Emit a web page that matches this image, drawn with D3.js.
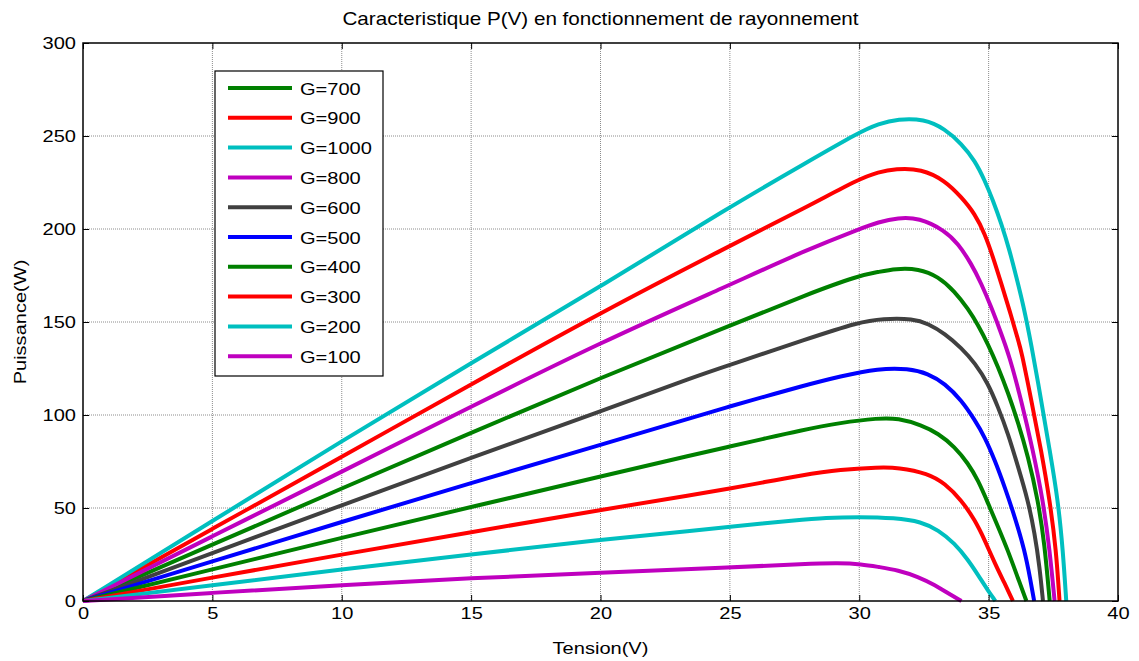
<!DOCTYPE html>
<html>
<head>
<meta charset="utf-8">
<script src="https://cdn.jsdelivr.net/npm/d3@7"></script>
<style>
  html, body { margin: 0; padding: 0; background: #fff; }
  svg text { font-family: "Liberation Sans", Arial, sans-serif; fill: #000; }
</style>
</head>
<body>
<svg id="chart" width="1139" height="661"></svg>
<script>
// ---- Data ----
const chartTitle = "Caracteristique P(V) en fonctionnement de rayonnement";
const xLabel = "Tension(V)";
const yLabel = "Puissance(W)";
const xTicks = [0, 5, 10, 15, 20, 25, 30, 35, 40];
const yTicks = [0, 50, 100, 150, 200, 250, 300];

// legend order = drawing order
const legendLabels = ["G=700", "G=900", "G=1000", "G=800", "G=600", "G=500", "G=400", "G=300", "G=200", "G=100"];

const v700  = [0, 5, 10, 15, 20, 25, 28, 30, 30.74, 31.4, 32.3, 33.05, 33.69, 34.21, 34.59, 34.98, 35.36, 35.75, 36.14, 36.52, 36.91, 37.16, 37.36];
const p700  = [0, 30.3, 60.5, 90.5, 120, 148, 165, 175, 176.9, 178.7, 178.7, 174.5, 166.5, 157, 148.5, 138, 126, 112, 96, 78, 54, 31, 0];

const v900  = [0, 5, 10, 15, 20, 25, 28, 30, 30.74, 31.4, 32.4, 33.31, 33.95, 34.47, 34.85, 35.17, 35.49, 35.81, 36.14, 36.26, 36.65, 37.03, 37.36, 37.61, 37.74];
const p900  = [0, 38.8, 77.5, 116.5, 155, 191, 212, 227, 230.6, 232.4, 232.4, 226.1, 217.1, 208.2, 197.5, 184.9, 170.6, 156.3, 140.2, 134.8, 107.9, 81.1, 54.2, 27.4, 0];

const v1000 = [0, 5, 10, 15, 20, 25, 28, 30, 30.74, 31.5, 32.5, 33.31, 33.95, 34.47, 34.85, 35.17, 35.49, 35.81, 36.07, 36.33, 36.65, 37.03, 37.36, 37.68, 37.87, 38.0];
const p1000 = [0, 43, 86, 128, 169, 212, 236, 252, 256.5, 259.2, 259.2, 253.9, 245.8, 236.8, 226.1, 215.4, 202.9, 188.5, 174.2, 159.9, 138, 107.9, 81.1, 54.2, 27.4, 0];

const v800  = [0, 5, 10, 15, 20, 25, 28, 30, 30.74, 31.5, 32.3, 33.31, 33.82, 34.33, 34.72, 35.1, 35.43, 35.81, 36.26, 36.71, 37.1, 37.36, 37.55];
const p800  = [0, 34.8, 69.5, 104.5, 139, 170, 189, 200, 203.7, 206.1, 206.1, 199.2, 192.1, 181.4, 170.6, 158.1, 146, 131.5, 107.9, 81.1, 54.2, 27.4, 0];

const v600  = [0, 5, 10, 15, 20, 23.79, 24.95, 28, 30, 30.9, 32.1, 32.66, 33.31, 33.95, 34.47, 34.98, 35.36, 35.75, 36.14, 36.52, 36.78, 36.97, 37.1];
const p600  = [0, 25.8, 51.5, 77, 102, 121.4, 126.7, 141, 150, 151.8, 151.8, 149.1, 143.8, 136, 128, 116.9, 104.4, 90.1, 72.1, 54.2, 36.4, 18.4, 0];

const v500  = [0, 5, 10, 15, 20, 23.79, 24.95, 26.37, 27.65, 29.32, 30.74, 31.9, 32.66, 33.31, 33.95, 34.47, 34.85, 35.24, 35.62, 36.01, 36.39, 36.62, 36.76];
const p500  = [0, 21.3, 42.5, 63.5, 84, 99.5, 104.5, 110, 115, 121, 125, 125, 122.3, 116.9, 107.9, 97.2, 88.2, 75.7, 61.4, 45.3, 27.4, 11, 0];

const v400  = [0, 5, 10, 15, 20, 23.79, 24.95, 26.37, 27.65, 29.32, 30.74, 31.5, 32.41, 33.05, 33.69, 34.21, 34.59, 34.98, 35.36, 35.75, 36.14, 36.46];
const p400  = [0, 17, 34, 50.5, 67, 79.3, 82.9, 87.4, 91.5, 96, 98.3, 98.3, 94.5, 90.1, 82.9, 73.9, 65, 52.5, 40, 27, 12, 0];

const v300  = [0, 5, 10, 15, 20, 23.79, 24.95, 26.37, 27.65, 29.32, 30.74, 31.5, 32.66, 33.31, 33.95, 34.47, 34.85, 35.24, 35.62, 35.94];
const p300  = [0, 12.6, 25, 37, 49, 57.6, 60.3, 64, 67.3, 70.8, 71.8, 71.8, 68.6, 63.2, 54.2, 43.5, 32.8, 20.2, 9.5, 0];

const v200  = [0, 5, 10, 15, 20, 23.79, 24.95, 27.65, 28.68, 29.97, 31.38, 32.41, 33.05, 33.69, 34.21, 34.59, 34.98, 35.26];
const p200  = [0, 8.5, 17, 25, 33, 38.1, 39.9, 43.5, 44.7, 45.2, 44.7, 42.6, 38.1, 31, 22, 14, 5.5, 0];

const v100  = [0, 5, 10, 15, 20, 25, 28, 29.2, 30.1, 30.74, 31.5, 32.28, 32.92, 33.44, 33.95];
const p100  = [0, 4.4, 8.6, 12.3, 15.2, 18, 20, 20.4, 19.8, 18.3, 16.6, 13, 8.6, 4.1, 0];

const seriesV = [v700, v900, v1000, v800, v600, v500, v400, v300, v200, v100];
const seriesP = [p700, p900, p1000, p800, p600, p500, p400, p300, p200, p100];

// ---- Styles ----
const seriesColors = ["#008000", "#ff0000", "#00bfbf", "#bf00bf", "#404040", "#0000ff", "#008000", "#ff0000", "#00bfbf", "#bf00bf"];

// ---- Layout ----
const svg = d3.select("#chart");
const plot = { left: 83, top: 43, right: 1118, bottom: 601 };
const sx = 1.18;          // horizontal stretch of the reference lettering
const fontSize = 17;

const x = d3.scaleLinear().domain([0, 40]).range([plot.left, plot.right]);
const y = d3.scaleLinear().domain([0, 300]).range([plot.bottom, plot.top]);

// grid
const grid = svg.append("g");
grid.selectAll("line.gx").data(xTicks.slice(1, -1)).enter().append("line")
  .attr("x1", d => x(d)).attr("x2", d => x(d))
  .attr("y1", plot.top).attr("y2", plot.bottom)
  .attr("stroke", "#8c8c8c").attr("stroke-width", 1).attr("stroke-dasharray", "1,1");
grid.selectAll("line.gy").data(yTicks.slice(1, -1)).enter().append("line")
  .attr("y1", d => y(d)).attr("y2", d => y(d))
  .attr("x1", plot.left).attr("x2", plot.right)
  .attr("stroke", "#8c8c8c").attr("stroke-width", 1).attr("stroke-dasharray", "1,1");

// curves
const line = d3.line().curve(d3.curveBasis);
const curves = svg.append("g");
seriesV.forEach((vs, i) => {
  const pts = vs.map((v, j) => [x(v), y(seriesP[i][j])]);
  curves.append("path")
    .attr("d", line(pts))
    .attr("fill", "none")
    .attr("stroke", seriesColors[i])
    .attr("stroke-width", 4)
    .attr("stroke-linejoin", "round");
});

// axes (ticks inward, on all sides)
const tickLen = 6;
const axB = d3.axisBottom(x).tickValues(xTicks).tickSizeInner(-tickLen).tickSizeOuter(0).tickPadding(6).tickFormat(d3.format("d"));
const axT = d3.axisTop(x).tickValues(xTicks).tickSizeInner(-tickLen).tickSizeOuter(0).tickFormat("");
const axL = d3.axisLeft(y).tickValues(yTicks).tickSizeInner(-tickLen).tickSizeOuter(0).tickPadding(6).tickFormat(d3.format("d"));
const axR = d3.axisRight(y).tickValues(yTicks).tickSizeInner(-tickLen).tickSizeOuter(0).tickFormat("");

function styleAxis(g) {
  g.select(".domain").remove();
  g.selectAll(".tick line").attr("stroke", "#000").attr("stroke-width", 1);
  g.selectAll(".tick text")
    .attr("font-size", fontSize)
    .attr("font-family", "Liberation Sans, Arial, sans-serif")
    .attr("fill", "#000")
    .attr("transform", `scale(${sx},1)`);
}
svg.append("g").attr("transform", `translate(0,${plot.bottom})`).call(axB).call(styleAxis);
svg.append("g").attr("transform", `translate(0,${plot.top})`).call(axT).call(styleAxis);
svg.append("g").attr("transform", `translate(${plot.left},0)`).call(axL).call(styleAxis);
svg.append("g").attr("transform", `translate(${plot.right},0)`).call(axR).call(styleAxis);

// box
svg.append("rect")
  .attr("x", plot.left).attr("y", plot.top)
  .attr("width", plot.right - plot.left).attr("height", plot.bottom - plot.top)
  .attr("fill", "none").attr("stroke", "#000").attr("stroke-width", 1.5);

// stretched text helper
function stext(parent, tx, ty, str, size, anchor, rot) {
  return parent.append("text")
    .attr("transform", `translate(${tx},${ty})${rot ? ` rotate(${rot})` : ""} scale(${sx},1)`)
    .attr("text-anchor", anchor)
    .attr("font-size", size)
    .text(str);
}

// title & labels
stext(svg, (plot.left + plot.right) / 2, 25, chartTitle, 17.5, "middle");
stext(svg, (plot.left + plot.right) / 2, 654, xLabel, fontSize, "middle");
stext(svg, 26, (plot.top + plot.bottom) / 2, yLabel, fontSize, "middle", -90);

// legend
const lg = svg.append("g");
const lgX = 215, lgY = 71, lgW = 168, lgH = 305, rowH = 29.8;
lg.append("rect").attr("x", lgX).attr("y", lgY).attr("width", lgW).attr("height", lgH)
  .attr("fill", "#fff").attr("stroke", "#000").attr("stroke-width", 1.2);
legendLabels.forEach((lab, i) => {
  const cy = lgY + 17 + i * rowH;
  lg.append("line").attr("x1", lgX + 13).attr("x2", lgX + 77).attr("y1", cy).attr("y2", cy)
    .attr("stroke", seriesColors[i]).attr("stroke-width", 4);
  stext(lg, lgX + 85, cy + 6.5, lab, fontSize, "start");
});
</script>
</body>
</html>
